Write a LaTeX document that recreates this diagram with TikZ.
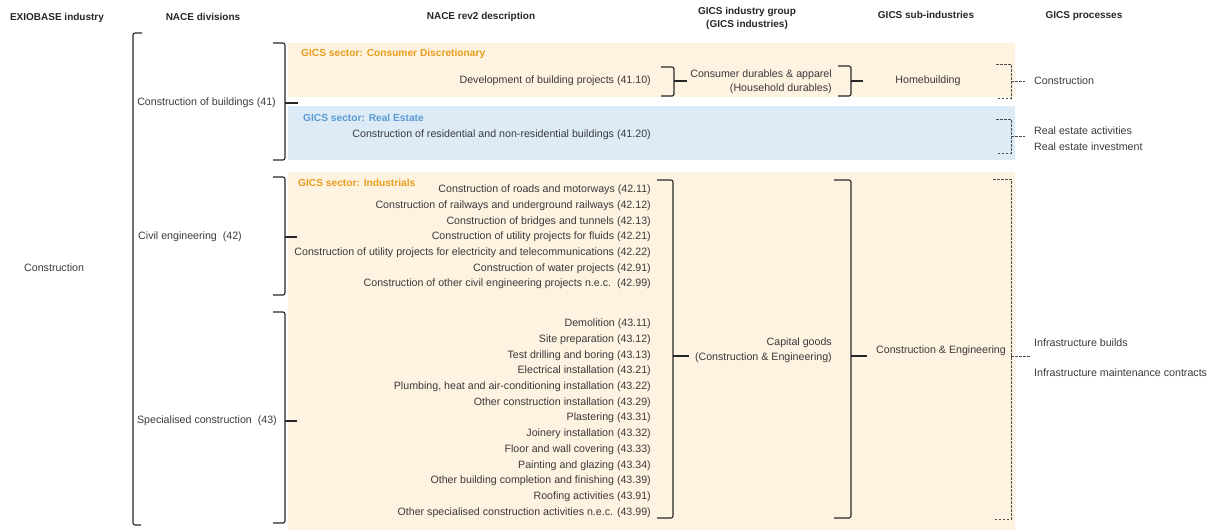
\documentclass[tikz,border=0pt]{standalone}
\usepackage{fontspec}
\setmainfont{Liberation Sans}
\definecolor{txtgray}{HTML}{3A3A3A}
\definecolor{hdrcol}{HTML}{262626}
\definecolor{orfill}{HTML}{FEF2E1}
\definecolor{blfill}{HTML}{DDEBF7}
\definecolor{ortext}{HTML}{E89E1C}
\definecolor{bltext}{HTML}{5B9BD5}
\tikzset{
  txt/.style={inner sep=0pt, font=\fontsize{10.65}{12}\selectfont, text=txtgray},
  hdr/.style={inner sep=0pt, font=\fontsize{10}{12}\selectfont\bfseries, text=hdrcol, align=center},
  sect/.style={inner sep=0pt, font=\fontsize{10.2}{12}\selectfont\bfseries, anchor=west},
  brk/.style={line width=1.1pt, black!85, rounded corners=2pt},
  dbrk/.style={line width=0.75pt, black!70, dash pattern=on 2.5pt off 1.5pt},
}
% curly brace: x of vertical, top, bottom, left end, mid y, right end
\newcommand\mybrace[6]{%
  \draw[brk] (#4,#2) -- (#1,#2) -- (#1,#3) -- (#4,#3);
  \draw[brk] (#1,#5) -- (#6,#5);
}
% dashed bracket
\newcommand\mydash[6]{%
  \draw[dbrk] (#4,#2) -- (#1,#2) -- (#1,#3) -- (#4,#3);
  \draw[dbrk] (#1,#5) -- (#6,#5);
}
\begin{document}
\begin{tikzpicture}[x=1pt,y=-1pt]
\useasboundingbox (0,0) rectangle (1218,531);

% sector boxes
\fill[orfill] (288,43) rectangle (1015,97);
\fill[blfill] (288,106) rectangle (1015,160);
\fill[orfill] (288,172) rectangle (1015,530);

% headers
\node[hdr] (h1) at (57,18) {EXIOBASE industry};
\node[hdr] (h2) at (203,17) {NACE divisions};
\node[hdr] (h3) at (481,17) {NACE rev2 description};
\node[hdr] (h4) at (747,18.5) {GICS industry group\\[1pt](GICS industries)};
\node[hdr] (h5) at (926,15) {GICS sub-industries};
\node[hdr] (h6) at (1084,16) {GICS processes};

% EXIOBASE
\node[txt, anchor=west] (constr) at (24,268) {Construction};
\draw[brk] (142,33) -- (133,33) -- (133,525) -- (141,525);

% NACE divisions
\node[txt, anchor=east] (d41) at (276,103) {Construction of buildings (41)};
\node[txt, anchor=east] (d42) at (242,237) {Civil engineering\ \ (42)};
\node[txt, anchor=east] (d43) at (277,421) {Specialised construction\ \ (43)};
\mybrace{285}{43}{160}{273}{103}{298}
\mybrace{285}{177}{295}{273}{237}{297}
\mybrace{285}{312}{523}{273}{421}{297}

% sector titles
\node[sect, text=ortext] (s1) at (301,54) {GICS sector: Consumer Discretionary};
\node[sect, text=bltext] (s2) at (303,118) {GICS sector: Real Estate};
\node[sect, text=ortext] (s3) at (298,183) {GICS sector: Industrials};

% Consumer discretionary row
\node[txt, anchor=east] (n4110) at (651,81) {Development of building projects (41.10)};
\mybrace{674}{67}{96}{661}{81}{687}
\node[txt, anchor=east, align=right] (cda) at (832,81.5) {Consumer durables \& apparel\\[2.5pt](Household durables)};
\mybrace{851}{66}{96}{838}{81}{863}
\node[txt] (homeb) at (928,81) {Homebuilding};
\mydash{1011}{64}{98}{996}{81}{1025}
\node[txt, anchor=west] (pconstr) at (1034,81) {Construction};

% Real estate row
\node[txt, anchor=east] (n4120) at (651,135) {Construction of residential and non-residential buildings (41.20)};
\mydash{1011}{119}{153}{996}{136}{1025}
\node[txt, anchor=west] (rea) at (1034,131) {Real estate activities};
\node[txt, anchor=west] (rei) at (1034,147) {Real estate investment};

% Industrials items
\node[txt, anchor=east] (n4211) at (651,190) {Construction of roads and motorways (42.11)};
\node[txt, anchor=east] (n4212) at (651,206) {Construction of railways and underground railways (42.12)};
\node[txt, anchor=east] (n4213) at (651,222) {Construction of bridges and tunnels (42.13)};
\node[txt, anchor=east] (n4221) at (651,237) {Construction of utility projects for fluids (42.21)};
\node[txt, anchor=east] (n4222) at (651,253) {Construction of utility projects for electricity and telecommunications (42.22)};
\node[txt, anchor=east] (n4291) at (651,269) {Construction of water projects (42.91)};
\node[txt, anchor=east] (n4299) at (651,284) {Construction of other civil engineering projects n.e.c.\ \ (42.99)};

\node[txt, anchor=east] (n4311) at (651,324) {Demolition (43.11)};
\node[txt, anchor=east] (n4312) at (651,339.7) {Site preparation (43.12)};
\node[txt, anchor=east] (n4313) at (651,355.4) {Test drilling and boring (43.13)};
\node[txt, anchor=east] (n4321) at (651,371.1) {Electrical installation (43.21)};
\node[txt, anchor=east] (n4322) at (651,386.8) {Plumbing, heat and air-conditioning installation (43.22)};
\node[txt, anchor=east] (n4329) at (651,402.5) {Other construction installation (43.29)};
\node[txt, anchor=east] (n4331) at (651,418.2) {Plastering (43.31)};
\node[txt, anchor=east] (n4332) at (651,433.9) {Joinery installation (43.32)};
\node[txt, anchor=east] (n4333) at (651,449.6) {Floor and wall covering (43.33)};
\node[txt, anchor=east] (n4334) at (651,465.3) {Painting and glazing (43.34)};
\node[txt, anchor=east] (n4339) at (651,481) {Other building completion and finishing (43.39)};
\node[txt, anchor=east] (n4391) at (651,496.7) {Roofing activities (43.91)};
\node[txt, anchor=east] (n4399) at (651,512.4) {Other specialised construction activities n.e.c. (43.99)};

\mybrace{673}{180}{518}{657}{356}{689}
\node[txt, anchor=east, align=right] (capg) at (832,350) {Capital goods\\[2.5pt](Construction \& Engineering)};
\mybrace{851}{180}{518}{834}{356}{867}
\node[txt, anchor=west] (ce) at (876,350.5) {Construction \& Engineering};
\mydash{1011}{179}{519}{993}{356}{1030}
\node[txt, anchor=west] (ib) at (1034,342.5) {Infrastructure builds};
\node[txt, anchor=west] (imc) at (1034,373) {Infrastructure maintenance contracts};
\end{tikzpicture}
\end{document}
